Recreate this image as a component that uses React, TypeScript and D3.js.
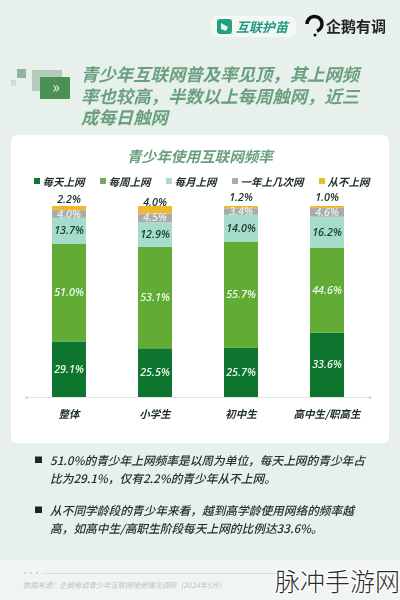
import React from "react";
import * as d3 from "d3";

const categories = ["整体", "小学生", "初中生", "高中生/职高生"];
const seriesNames = ["每天上网", "每周上网", "每月上网", "一年上几次网", "从不上网"];
const daily = [29.1, 25.5, 25.7, 33.6];
const weekly = [51.0, 53.1, 55.7, 44.6];
const monthly = [13.7, 12.9, 14.0, 16.2];
const yearly = [4.0, 4.5, 3.4, 4.6];
const never = [2.2, 4.0, 1.2, 1.0];
const colors = ["#10742f", "#62ac36", "#a5dccb", "#a9aca8", "#eeb92f"];
const legendColors = ["#10742f", "#7aa35c", "#a5dccb", "#a9aca8", "#eeb92f"];
const labelColors = ["#e8f8ea", "#e8f8ea", "#1f3a2c", "#e8f0ea", "#1f2d28"];
const headingLines = ["青少年互联网普及率见顶，其上网频", "率也较高，半数以上每周触网，近三", "成每日触网"];
const bullets = [
  ["51.0%的青少年上网频率是以周为单位，每天上网的青少年占", "比为29.1%，仅有2.2%的青少年从不上网。"],
  ["从不同学龄段的青少年来看，越到高学龄使用网络的频率越", "高，如高中生/高职生阶段每天上网的比例达33.6%。"],
];
const sourceText = "数据来源：企鹅有调青少年互联网使用情况调研（2024年5月）";
const legendX = [34, 100, 166, 232, 319];
const bulletY = [[464.5, 482.5], [514.5, 532.5]];
const neverLabelShift = [0, 3.5, -1.5, -1.5];

const font = "'Noto Sans CJK SC', 'Noto Sans', sans-serif";

export default function App() {
  const rows = categories.map((c, i) => ({
    cat: c,
    s0: daily[i], s1: weekly[i], s2: monthly[i], s3: yearly[i], s4: never[i],
  }));
  const keys = ["s0", "s1", "s2", "s3", "s4"];
  const stacked = d3.stack<any>().keys(keys)(rows);
  const x = d3.scalePoint<string>().domain(categories).range([69, 327]);
  const xc = (c: string) => x(c) as number;
  const bw = 34;
  const y = d3.scaleLinear().domain([0, 100]).range([397, 206]);
  const ob = { fontStyle: "italic" as const };
  return (
    <svg width={400} height={600} viewBox="0 0 400 600"
      style={{ position: "absolute", left: 0, top: 0, display: "block", fontFamily: font }}>
      <defs>
        <filter id="soft" x="0" y="0" width="100%" height="100%" filterUnits="userSpaceOnUse" primitiveUnits="userSpaceOnUse">
          <feGaussianBlur stdDeviation="0.45" />
        </filter>
      </defs>
      <g filter="url(#soft)">
        <rect x={-5} y={-5} width={410} height={610} fill="#e7f0ea" />
        <rect x={-5} y={560} width={410} height={45} fill="#f0f5f2" />

        {/* logos */}
        <rect x={211} y={16} width={85} height={21} rx={7} fill="#f3f8f5" />
        <rect x={217} y={19} width={15} height={15} rx={3} fill="#20a080" />
        <path d="M221 23 L228 27 L226 31 L221 29 Z" fill="#e4f5ee" />
        <text x={236} y={31.5} fontSize={13} fontWeight={700} fill="#1f9a7c" {...ob}>互联护苗</text>
        <path d="M307 24 A7.5 7.5 0 1 1 317 31" fill="none" stroke="#111" strokeWidth={3.5} />
        <circle cx={315} cy={35} r={1.5} fill="#111" />
        <text x={326} y={32} fontSize={15} fontWeight={700} fill="#222">企鹅有调</text>

        {/* heading */}
        <rect x={17} y={69} width={9} height={9} fill="#8fb59d" />
        <rect x={11} y={80} width={5} height={6} fill="#cfdcd3" />
        <rect x={32} y={70} width={30} height={21} fill="#b4cbbb" />
        <rect x={40} y={77} width={30} height={22} rx={1} fill="#4c9055" />
        <text x={56} y={93} fontSize={16} fill="#e8f3ea" textAnchor="middle">»</text>
        {headingLines.map((t, i) => (
          <text key={i} x={81} y={81 + i * 21.7} fontSize={17.4} fontWeight={700} fill="#6aa07f" {...ob}>{t}</text>
        ))}

        {/* card */}
        <rect x={11} y={135} width={378} height={308} rx={6} fill="#ffffff" />
        <text x={200} y={162} fontSize={14.6} fontWeight={700} fill="#6aa07f" textAnchor="middle" {...ob}>青少年使用互联网频率</text>

        {/* legend */}
        {seriesNames.map((n, i) => (
          <g key={n}>
            <rect x={legendX[i]} y={178} width={6} height={6} fill={legendColors[i]} />
            <text x={legendX[i] + 8.5} y={185.5} fontSize={10.5} fontWeight={700} fill="#1f2d28" {...ob}>{n}</text>
          </g>
        ))}

        {/* bars */}
        {stacked.map((layer, si) => (
          <g key={si}>
            {layer.map((d: any) => {
              const c = d.data.cat;
              return (
                <rect key={c} x={xc(c) - bw / 2} width={bw} y={y(d[1])} height={y(d[0]) - y(d[1])} fill={colors[si]} />
              );
            })}
          </g>
        ))}
        {/* labels */}
        {stacked.map((layer, si) =>
          layer.map((d: any, ci: number) => {
            const c = d.data.cat;
            const v = d[1] - d[0];
            const top = si === 4;
            const yy = top ? y(d[1]) - 3.5 + neverLabelShift[ci] : (y(d[0]) + y(d[1])) / 2 + 3.5;
            return (
              <text key={si + "-" + ci} x={xc(c)} y={yy} fontSize={10.8} textAnchor="middle"
                fill={labelColors[si]} fontFamily="'Open Sans', sans-serif" fontWeight={600} {...ob}>
                {v.toFixed(1)}%
              </text>
            );
          })
        )}

        {/* axis */}
        <line x1={26} x2={371} y1={397.5} y2={397.5} stroke="#dfe5e1" strokeWidth={1} />
        <circle cx={26.5} cy={397.5} r={1.5} fill="#d5dcd7" />
        <circle cx={370} cy={397.5} r={1.5} fill="#d5dcd7" />
        {categories.map((c) => (
          <text key={c} x={xc(c)} y={417.5} fontSize={10.5} fontWeight={700} textAnchor="middle" fill="#1f2d28" {...ob}>{c}</text>
        ))}

        {/* bullets */}
        {bullets.map((lines, i) => (
          <g key={i}>
            <rect x={35} y={bulletY[i][0] - 8} width={7} height={6.5} fill="#1a2520" />
            {lines.map((t, j) => (
              <text key={j} x={50} y={bulletY[i][j]} fontSize={11.7} fontWeight={500} fill="#22322a" {...ob}>{t}</text>
            ))}
          </g>
        ))}

        {/* footer */}
        <circle cx={25} cy={573} r={1} fill="#c3ccc6" />
        <circle cx={31} cy={573} r={1} fill="#c3ccc6" />
        <circle cx={37} cy={573} r={1} fill="#c3ccc6" />
        <line x1={42} x2={280} y1={573.5} y2={573.5} stroke="#d9e0db" />
        <text x={23} y={587.5} fontSize={7.3} fill="#b9c4bd" {...ob}>{sourceText}</text>
      </g>
      <text x={275} y={591} fontSize={25} fontWeight={300} fill="#2c2c2c" stroke="#fff" strokeWidth={2.5} paintOrder="stroke">脉冲手游网</text>
    </svg>
  );
}
